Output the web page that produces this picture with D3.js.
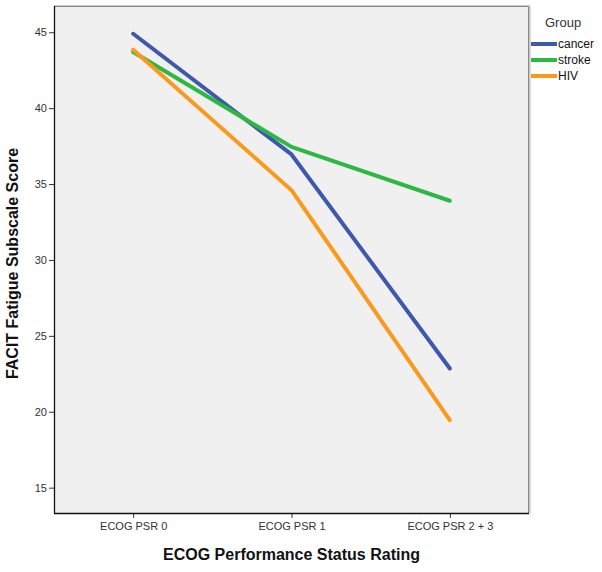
<!DOCTYPE html>
<html><head><meta charset="utf-8">
<script src="https://cdn.jsdelivr.net/npm/d3@7"></script>
<style>body{margin:0;background:#fff;} text{font-family:Arial,"Liberation Sans",sans-serif;}</style>
</head><body>
<svg id="c" width="602" height="572"></svg>
<script>
const categories = ["ECOG PSR 0", "ECOG PSR 1", "ECOG PSR 2 + 3"];
const groups = ["cancer", "stroke", "HIV"];
const cancer = [44.9, 36.95, 22.85];
const stroke = [43.7, 37.45, 33.9];
const hiv = [43.85, 34.6, 19.45];
const yTicks = [15, 20, 25, 30, 35, 40, 45];
const colors = ["#3e58ac", "#2eb843", "#f9991d"];
const seriesValues = [cancer, stroke, hiv];

const svg = d3.select("#c");
const L = 54, T = 6, R = 529, B = 513;
const x = d3.scalePoint().domain(categories).range([L, R]).padding(0.5);
const y = d3.scaleLinear().domain([13.33, 46.73]).range([B, T]);

// plot background
svg.append("rect").attr("x", L).attr("y", T).attr("width", R - L).attr("height", B - T).attr("fill", "#f0f0f0");
// top/right frame (grey with light shadow)
svg.append("path").attr("d", `M${L},${T+0.5}H${R-0.5}V${B}`).attr("fill", "none").attr("stroke", "#8a8a8a").attr("stroke-width", 1);
svg.append("path").attr("d", `M${L},${T-0.5}H${R+0.5}V${B}`).attr("fill", "none").attr("stroke", "#c8c8c8").attr("stroke-width", 1);
svg.append("line").attr("x1", R + 1.5).attr("x2", R + 1.5).attr("y1", T).attr("y2", B + 1).attr("stroke", "#dcdcdc");

// axes
const yAxis = d3.axisLeft(y).tickValues(yTicks).tickSize(5).tickPadding(2);
const gy = svg.append("g").attr("transform", `translate(${L},0)`).call(yAxis);
const xAxis = d3.axisBottom(x).tickSize(5).tickPadding(4);
const gx = svg.append("g").attr("transform", `translate(0,${B})`).call(xAxis);
[gy, gx].forEach(g => {
  g.select(".domain").remove();
  g.selectAll(".tick line").attr("stroke", "#333");
  g.selectAll(".tick text").attr("fill", "#333").style("font-size", "11px").style("font-family", "Arial, 'Liberation Sans', sans-serif");
});
svg.append("line").attr("x1", L + 0.5).attr("x2", L + 0.5).attr("y1", T).attr("y2", B + 0.5).attr("stroke", "#111").attr("stroke-width", 1.3);
svg.append("line").attr("x1", L).attr("x2", R).attr("y1", B + 0.5).attr("y2", B + 0.5).attr("stroke", "#111").attr("stroke-width", 1.3);

// lines
const line = d3.line().x((d, i) => x(categories[i])).y(d => y(d));
seriesValues.forEach((vals, k) => {
  svg.append("path").datum(vals).attr("d", line).attr("fill", "none")
    .attr("stroke", colors[k]).attr("stroke-width", 4).attr("stroke-linecap", "round").attr("stroke-linejoin", "round");
});

// axis titles
svg.append("text").attr("x", x(categories[1])).attr("y", 560).attr("text-anchor", "middle")
  .style("font-size", "16px").style("font-weight", "bold").attr("fill", "#111").text("ECOG Performance Status Rating");
svg.append("text").attr("transform", `translate(18,${(T + B) / 2 + 4}) rotate(-90)`).attr("text-anchor", "middle")
  .style("font-size", "16px").style("font-weight", "bold").attr("fill", "#111").text("FACIT Fatigue Subscale Score");

// legend
svg.append("text").attr("x", 545).attr("y", 27).style("font-size", "13px").attr("fill", "#333").text("Group");
groups.forEach((g, k) => {
  const yy = 44 + k * 16;
  svg.append("line").attr("x1", 531).attr("x2", 557).attr("y1", yy).attr("y2", yy).attr("stroke", colors[k]).attr("stroke-width", 4);
  svg.append("text").attr("x", 558).attr("y", yy + 4).style("font-size", "12px").attr("fill", "#111").text(g);
});
</script>
</body></html>
